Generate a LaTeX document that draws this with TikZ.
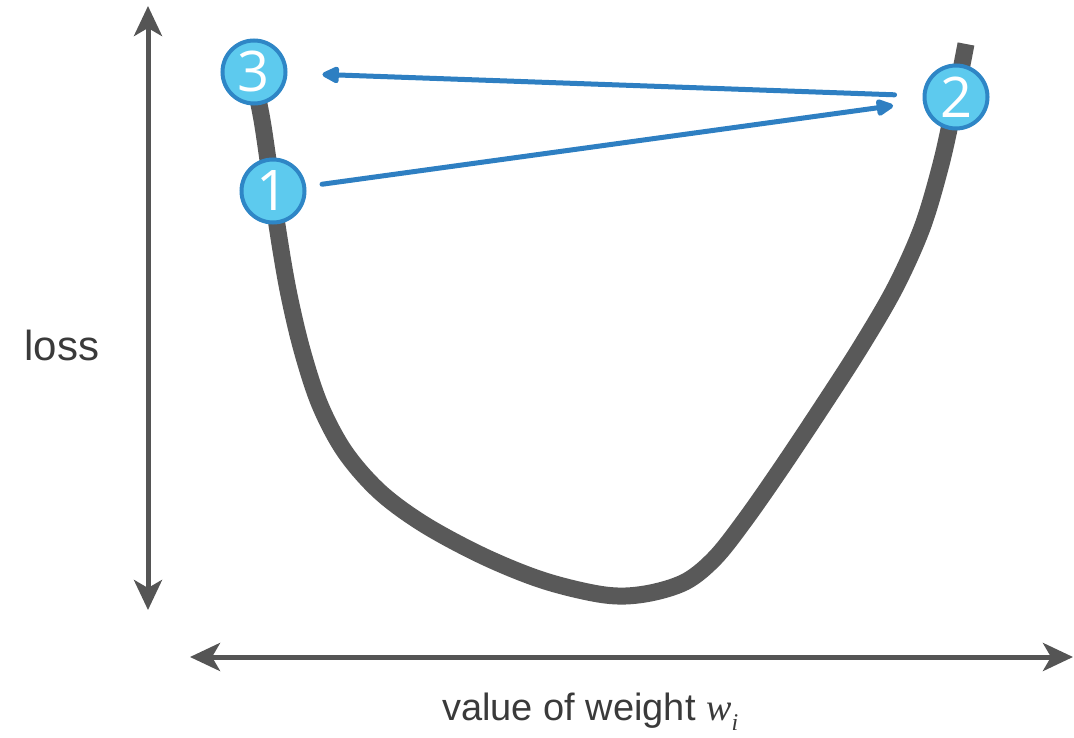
\documentclass[tikz,border=0pt]{standalone}
\usepackage{fontspec}
\setmainfont{Liberation Sans}
\newfontfamily\numfont{Open Sans}
\newfontfamily\serifit{Liberation Serif}
\usetikzlibrary{arrows.meta}
\definecolor{axisgray}{HTML}{555555}
\definecolor{curvegray}{HTML}{595959}
\definecolor{circfill}{HTML}{5DCAEE}
\definecolor{circline}{HTML}{2E86C6}
\definecolor{arrowblue}{HTML}{2E7FC2}
\definecolor{textgray}{HTML}{3A3A3A}
\tikzset{
  axis/.style={draw=axisgray, line width=5pt, {Stealth[length=30pt,width=28pt,inset=8pt]}-{Stealth[length=30pt,width=28pt,inset=8pt]}},
  lossline/.style={draw=curvegray, line width=17pt},
  numcirc/.style={circle, fill=circfill, draw=circline, line width=4pt, minimum size=63pt, inner sep=0pt, text=white, font=\numfont\fontsize{56}{56}\selectfont},
  move/.style={draw=arrowblue, line width=5pt, line cap=round, -{Triangle[length=20pt,width=18pt,round]}},
  lbl/.style={text=textgray, inner sep=0pt}
}
\begin{document}
\begin{tikzpicture}[x=1pt,y=-1pt]
\useasboundingbox (0,0) rectangle (1074,738);
% axes
\coordinate (vtop) at (148,6);
\coordinate (vbot) at (148,610);
\coordinate (hleft) at (190,657);
\coordinate (hright) at (1073,657);
\draw[axis] (vtop) -- (vbot);
\draw[axis] (hleft) -- (hright);
% labels
\node[lbl, font=\fontsize{42}{42}\selectfont] (loss) at (62,345) {loss};
\node[lbl, font=\fontsize{38}{38}\selectfont, anchor=base west] (wlab) at (442,720) {value of weight {\serifit\itshape\fontsize{38}{38}\selectfont w}\raisebox{-10pt}{\serifit\itshape\fontsize{24}{24}\selectfont i}};
% curve
\draw[lossline] plot[smooth, tension=0.55] coordinates {
 (256,90) (262,120) (268,160) (277,225) (288,290) (302,350) (320,405)
 (345,452) (380,492) (425,525) (485,557) (545,581) (605,595) (645,594)
 (685,582) (715,558) (745,520) (780,470) (820,410) (860,348) (895,288)
 (922,228) (940,168) (952,115) (966,44)};
% circles
\node[numcirc] (n3) at (254,72) {3};
\node[numcirc] (n1) at (273,191) {1};
\node[numcirc] (n2) at (956,97) {2};
% moves
\draw[move, shorten <=16pt, shorten >=30pt] (n1) -- (n2);
\draw[move, shorten <=28pt, shorten >=35pt] (n2) -- (n3);
\end{tikzpicture}
\end{document}
